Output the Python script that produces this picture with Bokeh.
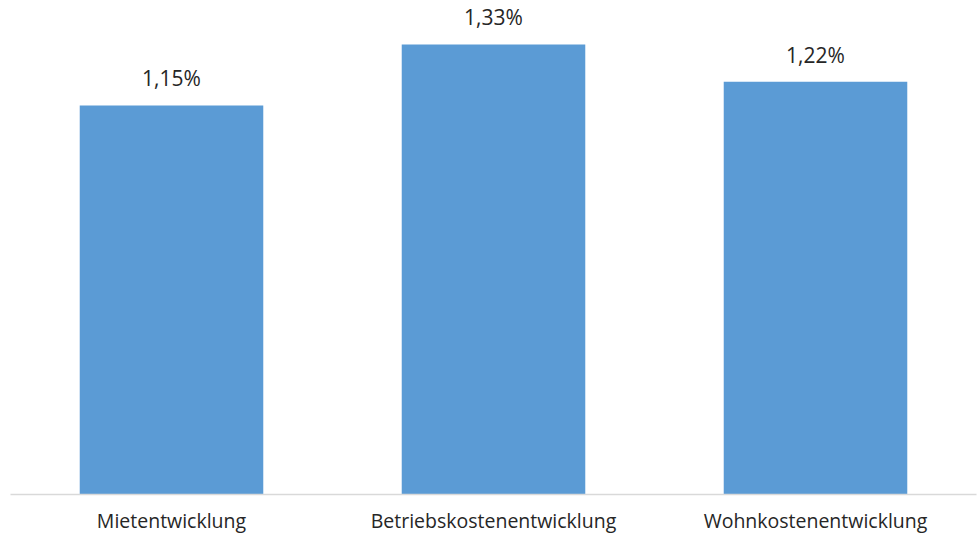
from bokeh.plotting import figure
from bokeh.models import ColumnDataSource, LabelSet, Range1d
from bokeh.core.properties import value
from bokeh.embed import file_html
from bokeh.resources import INLINE

categories = ["Mietentwicklung", "Betriebskostenentwicklung", "Wohnkostenentwicklung"]
values = [1.15, 1.33, 1.22]
labels = [f"{v:.2f}%".replace(".", ",") for v in values]

source = ColumnDataSource(data=dict(cat=categories, val=values, lab=labels))

p = figure(x_range=categories, y_range=Range1d(0, 1.46),
           width=979, height=536, output_backend="svg", toolbar_location=None,
           min_border_left=10, min_border_right=3, min_border_top=0, min_border_bottom=41)

p.vbar(x="cat", top="val", width=0.57, source=source, color="#5B9BD5", line_color=None)

p.add_layout(LabelSet(x="cat", y="val", text="lab", source=source, y_offset=27,
                      text_align="center", text_baseline="middle",
                      text_font=value("Open Sans"), text_font_size="21px",
                      text_color="#262626"))

p.yaxis.visible = False
p.xgrid.grid_line_color = None
p.ygrid.grid_line_color = None
p.outline_line_color = None
p.xaxis.axis_line_color = "#D9D9D9"
p.xaxis.axis_line_width = 1.5
p.xaxis.major_tick_line_color = None
p.xaxis.minor_tick_line_color = None
p.xaxis.major_label_text_font = "Open Sans"
p.xaxis.major_label_text_font_size = "19.5px"
p.xaxis.major_label_text_color = "#262626"
p.xaxis.major_label_standoff = 6
p.x_range.range_padding = 0.0
p.background_fill_color = "white"
p.border_fill_color = "white"

open("out.html", "w").write(file_html(p, INLINE))
